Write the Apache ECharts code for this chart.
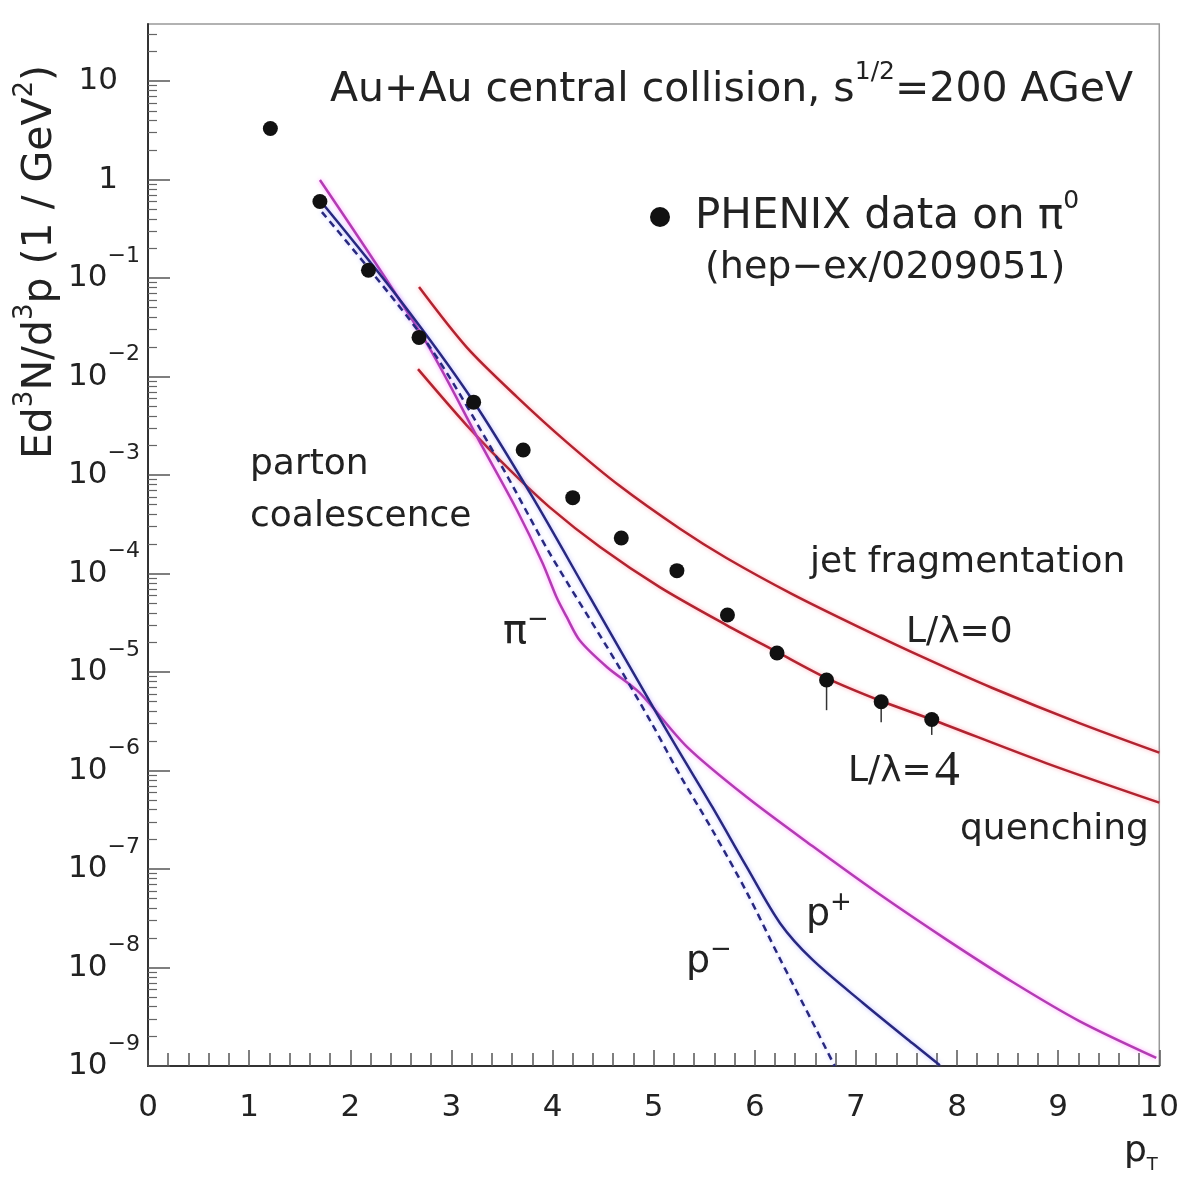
<!DOCTYPE html>
<html>
<head>
<meta charset="utf-8">
<title>Au+Au central collision spectra</title>
<script src="https://cdn.jsdelivr.net/npm/echarts@6/dist/echarts.min.js"></script>
<style>
  html, body { margin: 0; padding: 0; background: #fff; }
  #chart { width: 1182px; height: 1177px; }
</style>
</head>
<body>
<div id="chart"></div>
<script>
// PHENIX pi0 data (pT, yield)
const dataPt = [1.21, 1.70, 2.18, 2.68, 3.22, 3.71, 4.20, 4.68, 5.23, 5.73, 6.22, 6.71, 7.25, 7.75]
const dataYield = [3.3, 0.60, 0.12, 0.025, 5.5e-3, 1.8e-3, 5.9e-4, 2.3e-4, 1.07e-4, 3.8e-5, 1.56e-5, 8.3e-6, 5.0e-6, 3.3e-6]
// error bars visible on the last points
const errPt = [6.71, 7.25, 7.75]
const errLow = [4.1e-6, 3.1e-6, 2.3e-6]
const errHigh = [9.8e-6, 5.8e-6, 3.7e-6]

// jet fragmentation, L/lambda = 0
const jet0Pt = [2.68, 3.15, 3.65, 4.14, 4.66, 5.26, 5.72, 6.37, 7.04, 7.70, 8.35, 9.21, 10.0]
const jet0Val = [0.0810, 0.0199, 6.19e-3, 2.16e-3, 7.82e-4, 2.85e-4, 1.44e-4, 6.19e-5, 2.83e-5, 1.36e-5, 6.89e-6, 3.03e-6, 1.52e-6]
// jet fragmentation, L/lambda = 4
const jet4Pt = [2.67, 3.15, 3.58, 3.97, 4.47, 5.06, 5.72, 6.22, 6.71, 7.25, 7.75, 8.88, 10.0]
const jet4Val = [0.0119, 3.22e-3, 1.12e-3, 4.73e-4, 1.86e-4, 7.29e-5, 3.00e-5, 1.60e-5, 8.69e-6, 5.08e-6, 3.30e-6, 1.19e-6, 4.72e-7]
// parton coalescence pi-
const piPt = [1.70, 2.72, 3.31, 3.65, 3.90, 4.04, 4.14, 4.27, 4.54, 4.86, 5.33, 5.92, 6.57, 7.23, 7.90, 8.55, 9.21, 9.97]
const piVal = [0.99, 0.0251, 1.91e-3, 4.37e-4, 1.29e-4, 5.75e-5, 3.63e-5, 2.09e-5, 1.12e-5, 6.17e-6, 1.74e-6, 5.38e-7, 1.71e-7, 5.57e-8, 1.91e-8, 7.13e-9, 2.86e-9, 1.21e-9]
// parton coalescence p+
const ppPt = [1.70, 2.49, 3.21, 3.80, 4.37, 5.03, 5.26, 5.58, 5.92, 6.25, 6.57, 7.07, 7.56, 7.83]
const ppVal = [0.617, 0.0603, 5.75e-3, 6.03e-4, 5.75e-5, 3.80e-6, 1.51e-6, 4.27e-7, 1.05e-7, 2.82e-8, 1.20e-8, 4.37e-9, 1.70e-9, 1.02e-9]
// parton coalescence p-
const pmPt = [1.72, 2.76, 3.48, 3.97, 4.63, 4.99, 5.26, 5.58, 5.92, 6.25, 6.57, 6.79]
const pmVal = [0.468, 0.0219, 1.32e-3, 1.62e-4, 1.26e-5, 2.90e-6, 9.0e-7, 2.49e-7, 5.83e-8, 1.22e-8, 2.80e-9, 1.0e-9]

// axis: decades shown as exponents
const majorExp = [-9, -8, -7, -6, -5, -4, -3, -2, -1, 0, 1]
const Y_MIN = -9
const Y_MAX = 1.58

const FONT = 'DejaVu Sans'
const INK = '#222'
const RED = '#b02430'
const MAG = '#b23cb2'
const BLUE = '#28287f'

const log = v => Math.log10(v)
const pairs = (xs, ys) => xs.map((x, i) => [x, log(ys[i])])

const minorExp = []
majorExp.forEach(k => {
  for (let m = 2; m <= 9; m++) {
    const v = k + Math.log10(m)
    if (v < Y_MAX) minorExp.push(v)
  }
})

const chart = echarts.init(document.getElementById('chart'))

function curve(name, xs, ys, color, glow, dashed) {
  return {
    name: name,
    type: 'line',
    data: pairs(xs, ys),
    showSymbol: false,
    smooth: 0.3,
    silent: true,
    z: 3,
    lineStyle: {
      color: color,
      width: 2.5,
      type: dashed ? [7, 5] : 'solid',
      shadowColor: glow,
      shadowBlur: 4
    }
  }
}

const t = (x, y, text, rich, extra) => ({
  type: 'text',
  x: x,
  y: y,
  style: Object.assign({
    text: text,
    rich: rich,
    fill: INK,
    align: 'left',
    verticalAlign: 'middle'
  }, extra || {})
})
const plain = (size, color) => ({ fontFamily: FONT, fontSize: size, color: color || INK })

chart.setOption({
  animation: false,
  backgroundColor: '#fff',
  grid: {
    left: 148,
    right: 22,
    top: 24,
    bottom: 111,
    show: true,
    borderColor: '#999',
    borderWidth: 1.5,
    containLabel: false
  },
  legend: {
    data: ['PHENIX data on π0'],
    left: 645,
    top: 184,
    icon: 'circle',
    itemWidth: 20,
    itemHeight: 20,
    selectedMode: false,
    formatter: () => '{a|PHENIX data on π}{s|0}',
    itemStyle: { color: '#111', opacity: 1 },
    textStyle: {
      padding: [0, 0, 0, 20],
      rich: {
        a: { fontFamily: FONT, fontSize: 42, color: INK, lineHeight: 56 },
        s: { fontFamily: FONT, fontSize: 25, color: INK, lineHeight: 25, verticalAlign: 'top' }
      }
    }
  },
  xAxis: {
    type: 'value',
    min: 0,
    max: 10,
    interval: 1,
    axisLine: { onZero: false, lineStyle: { color: '#333', width: 2 } },
    axisTick: { inside: true, length: 16, lineStyle: { color: '#555', width: 1.5 } },
    minorTick: { show: true, splitNumber: 5, length: 13, lineStyle: { color: '#555', width: 1.5 } },
    axisLabel: { fontFamily: FONT, fontSize: 31, color: INK, margin: 26 },
    splitLine: { show: false },
    minorSplitLine: { show: false }
  },
  yAxis: [{
    type: 'value',
    min: Y_MIN,
    max: Y_MAX,
    position: 'left',
    axisLine: { show: true, onZero: false, lineStyle: { color: '#333', width: 2 } },
    axisTick: { inside: true, length: 22, customValues: majorExp, lineStyle: { color: '#555', width: 1.5 } },
    axisLabel: {
      customValues: majorExp,
      margin: 8,
      formatter: v => {
        if (v === 1) return '{p|10}'
        if (v === 0) return '{p|1}'
        return '{b|10}{e|−' + (-v) + '}'
      },
      rich: {
        p: { fontFamily: FONT, fontSize: 31, color: INK, padding: [0, 22, 0, 0] },
        b: { fontFamily: FONT, fontSize: 31, color: INK, lineHeight: 66 },
        e: { fontFamily: FONT, fontSize: 22, color: INK, lineHeight: 22, verticalAlign: 'top' }
      }
    },
    splitLine: { show: false }
  }, {
    type: 'value',
    min: Y_MIN,
    max: Y_MAX,
    position: 'left',
    offset: 0,
    axisLine: { show: false, onZero: false },
    axisTick: { show: true, inside: true, length: 9, customValues: minorExp, lineStyle: { color: '#666', width: 1.2 } },
    axisLabel: { show: false },
    splitLine: { show: false }
  }],
  series: [
    curve('L/λ=0', jet0Pt, jet0Val, RED, 'rgba(255,110,130,0.6)'),
    curve('L/λ=4', jet4Pt, jet4Val, RED, 'rgba(255,110,130,0.6)'),
    curve('π-', piPt, piVal, MAG, 'rgba(255,90,255,0.6)'),
    curve('p+', ppPt, ppVal, BLUE, 'rgba(120,120,255,0.5)'),
    curve('p-', pmPt, pmVal, BLUE, 'rgba(120,120,255,0.4)', true),
    {
      name: 'errors',
      type: 'custom',
      silent: true,
      z: 4,
      data: errPt.map((x, i) => [x, log(errLow[i]), log(errHigh[i])]),
      renderItem: (params, api) => {
        const lo = api.coord([api.value(0), api.value(1)])
        const hi = api.coord([api.value(0), api.value(2)])
        return {
          type: 'line',
          shape: { x1: lo[0], y1: lo[1], x2: hi[0], y2: hi[1] },
          style: { stroke: '#333', lineWidth: 1.5 }
        }
      }
    },
    {
      name: 'PHENIX data on π0',
      type: 'scatter',
      data: pairs(dataPt, dataYield),
      symbol: 'circle',
      symbolSize: 15,
      z: 5,
      itemStyle: { color: '#111', opacity: 1 }
    }
  ],
  graphic: [
    t(330, 90, '{a|Au+Au central collision, s}{s|1/2}{a|=200 AGeV}', {
      a: Object.assign(plain(41), { lineHeight: 60 }),
      s: Object.assign(plain(25), { lineHeight: 26, verticalAlign: 'top' })
    }),
    t(705, 268, '{a|(hep−ex/0209051)}', { a: plain(38) }),
    t(250, 465, '{a|parton}', { a: plain(36) }),
    t(250, 517, '{a|coalescence}', { a: plain(36) }),
    t(810, 563, '{a|jet fragmentation}', { a: plain(36) }),
    t(906, 633, '{a|L/λ=0}', { a: plain(36) }),
    t(848, 772, '{a|L/λ=}{f|4}', {
      a: plain(36),
      f: { fontFamily: 'Liberation Serif', fontSize: 50, color: '#000', backgroundColor: '#fff', padding: [0, 42, 0, 3] }
    }),
    t(960, 830, '{a|quenching}', { a: plain(36) }),
    t(503, 633, '{a|π}{s|−}', {
      a: Object.assign(plain(40), { lineHeight: 52 }),
      s: Object.assign(plain(26), { lineHeight: 26, verticalAlign: 'top' })
    }),
    t(806, 915, '{a|p}{s|+}', {
      a: Object.assign(plain(38, BLUE), { lineHeight: 50 }),
      s: Object.assign(plain(26, BLUE), { lineHeight: 26, verticalAlign: 'top' })
    }),
    t(686, 962, '{a|p}{s|−}', {
      a: Object.assign(plain(38, BLUE), { lineHeight: 50 }),
      s: Object.assign(plain(26, BLUE), { lineHeight: 26, verticalAlign: 'top' })
    }),
    t(1124, 1152, '{a|p}{s|T}', {
      a: Object.assign(plain(36), { lineHeight: 44 }),
      s: Object.assign(plain(18), { lineHeight: 18, verticalAlign: 'bottom' })
    }),
    {
      type: 'text',
      x: 40,
      y: 262,
      rotation: Math.PI / 2,
      style: {
        text: '{a|Ed}{s|3}{a|N/d}{s|3}{a|p (1 / GeV}{s|2}{a|)}',
        rich: {
          a: Object.assign(plain(41), { lineHeight: 56 }),
          s: Object.assign(plain(26), { lineHeight: 26, verticalAlign: 'top' })
        },
        fill: INK,
        align: 'center',
        verticalAlign: 'middle'
      }
    }
  ]
})
</script>
</body>
</html>
